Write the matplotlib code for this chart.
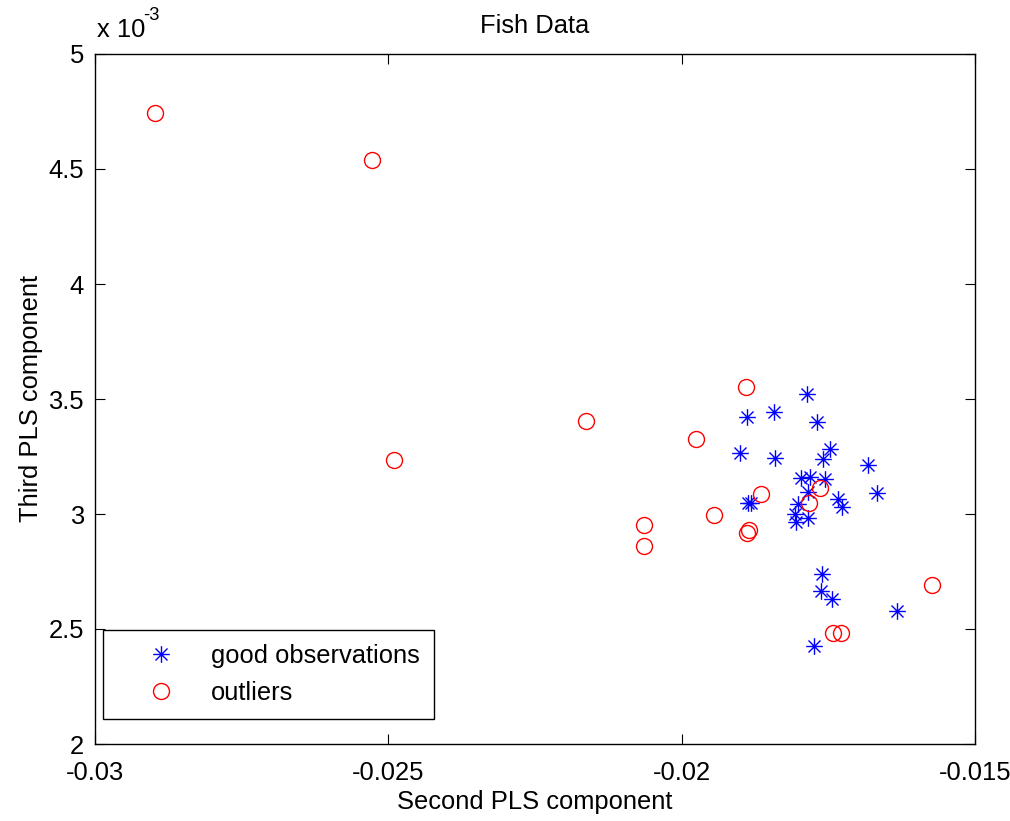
import matplotlib

matplotlib.use("Agg")
import matplotlib.pyplot as plt
import numpy as np
from matplotlib.path import Path
from matplotlib.ticker import FormatStrFormatter

plt.rcParams["font.family"] = ["Liberation Sans", "DejaVu Sans"]
plt.rcParams["axes.unicode_minus"] = False

# second / third PLS component, third in units of 1e-3
good_x = [-0.017859, -0.018892, -0.018426, -0.017699, -0.017472, -0.017596,
          -0.019006, -0.018409, -0.016819, -0.016676, -0.017966, -0.017813,
          -0.017557, -0.017842, -0.018864, -0.018818, -0.017330, -0.017273,
          -0.018012, -0.018068, -0.018051, -0.017842, -0.017613, -0.017630,
          -0.017443, -0.016335, -0.017745]
good_y = [3.520, 3.423, 3.442, 3.401, 3.281, 3.238,
          3.264, 3.242, 3.213, 3.090, 3.155, 3.160,
          3.151, 3.097, 3.047, 3.049, 3.064, 3.029,
          3.043, 3.000, 2.967, 2.981, 2.739, 2.667,
          2.629, 2.580, 2.426]

out_x = [-0.028977, -0.025278, -0.024903, -0.021631, -0.020642, -0.020642,
         -0.019756, -0.019444, -0.018903, -0.018648, -0.018847, -0.018881,
         -0.017642, -0.017825, -0.017416, -0.017289, -0.015733]
out_y = [4.743, 4.539, 3.235, 3.404, 2.952, 2.861,
         3.325, 2.996, 3.551, 3.087, 2.930, 2.916,
         3.112, 3.047, 2.481, 2.481, 2.691]

x_ticks = [-0.03, -0.025, -0.02, -0.015]
y_ticks = [2, 2.5, 3, 3.5, 4, 4.5, 5]

FS = 18.4

### matlab style asterisk: plus and cross in one path
d = 0.72
star_verts = [(-1, 0), (1, 0), (0, -1), (0, 1), (-d, -d), (d, d), (-d, d), (d, -d)]
star_codes = [Path.MOVETO, Path.LINETO] * 4
star_marker = Path(star_verts, star_codes)

fig = plt.figure(figsize=(10.1, 8.21), dpi=100)
ax = fig.add_axes([95 / 1010, 77 / 821, 880 / 1010, 690 / 821])

ax.plot(good_x, good_y, linestyle="none", marker=star_marker, markersize=12,
        markerfacecolor="none", markeredgecolor="blue", markeredgewidth=1.0,
        label="good observations")
ax.plot(out_x, out_y, linestyle="none", marker="o", markersize=11.5,
        markerfacecolor="none", markeredgecolor="red", markeredgewidth=1.0,
        label="outliers")

ax.set_xlim(-0.03, -0.015)
ax.set_ylim(2, 5)
ax.set_xticks(x_ticks)
ax.set_yticks(y_ticks)
ax.xaxis.set_major_formatter(FormatStrFormatter("%g"))
ax.yaxis.set_major_formatter(FormatStrFormatter("%g"))
ax.tick_params(direction="in", top=True, right=True, length=7, width=0.8,
               labelsize=FS)
ax.tick_params(axis="x", pad=12.5)
ax.tick_params(axis="y", pad=8)
for spine in ax.spines.values():
    spine.set_linewidth(1.0)

ax.set_xlabel("Second PLS component", fontsize=FS, labelpad=3)
ax.set_ylabel("Third PLS component", fontsize=FS, labelpad=4)
ax.set_title("Fish Data", fontsize=FS, pad=15)

### exponent label, matlab style
ax.text(2 / 880, 1.017, "x 10", transform=ax.transAxes, fontsize=FS,
        ha="left", va="bottom")
ax.text(48 / 880, 1.043, "-3", transform=ax.transAxes, fontsize=FS * 0.72,
        ha="left", va="bottom")

leg = ax.legend(loc="lower left", bbox_to_anchor=(0.009, 0.036), borderaxespad=0,
                fontsize=FS, numpoints=1, handlelength=3.45, handletextpad=0.22,
                borderpad=0.55, labelspacing=0.5, fancybox=False, framealpha=1,
                edgecolor="black")
leg.get_frame().set_linewidth(1.0)

fig.savefig("out.png", dpi=100)
